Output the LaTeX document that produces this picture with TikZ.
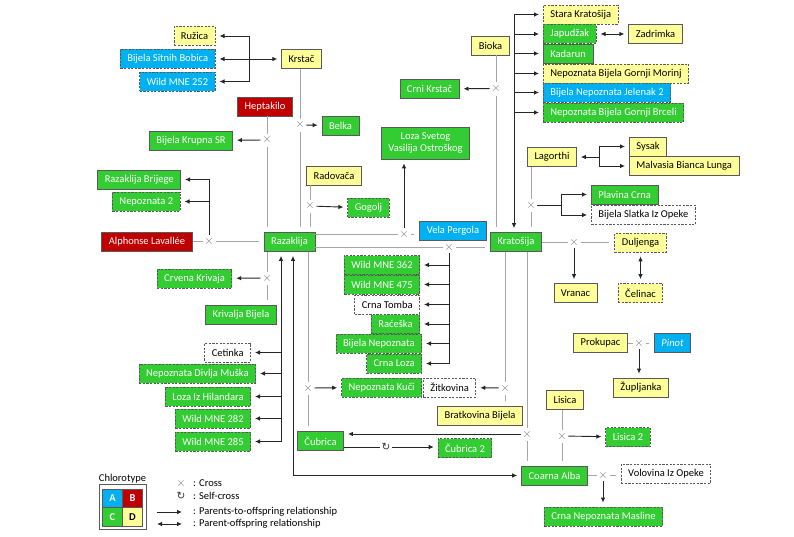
\documentclass[tikz,border=0pt]{standalone}
\usepackage{fontspec}
\setmainfont{Carlito}
\newfontfamily\symfont{DejaVu Sans}
\usetikzlibrary{arrows.meta}

\definecolor{cgreen}{RGB}{51,204,51}
\definecolor{cblue}{RGB}{0,176,240}
\definecolor{cred}{RGB}{192,0,0}
\definecolor{cyellow}{RGB}{255,255,153}
\definecolor{cline}{RGB}{89,89,89}

\tikzset{
    box/.style={draw=cline, line width=0.8pt, minimum height=19pt, inner xsep=7pt, inner ysep=0pt, font=\fontsize{10.5}{12.6}\selectfont},
    grn/.style={box, fill=cgreen, text=white},
    blu/.style={box, fill=cblue, text=white},
    rd/.style={box, fill=cred, text=white},
    ylw/.style={box, fill=cyellow},
    wht/.style={box, fill=white},
    dsh/.style={dash pattern=on 2.2pt off 1.4pt},
    xx/.style={circle, fill=white, inner sep=0pt, minimum size=10pt, text=black!55, font=\fontsize{12.5}{12.5}\selectfont},
    selfx/.style={circle, fill=white, inner sep=0pt, minimum size=10pt, text=black!80, font=\symfont\fontsize{10.5}{10.5}\selectfont},
    pline/.style={draw=gray!70, line width=0.8pt, shorten <=1pt, shorten >=5pt},
    arr/.style={draw=black!85, line width=0.9pt, -{Latex[length=5pt,width=4.6pt]}, shorten >=4pt},
    biarr/.style={arr, {Latex[length=5pt,width=4.6pt]}-{Latex[length=5pt,width=4.6pt]}, shorten <=4pt},
    cell/.style={draw=cline, line width=0.6pt, minimum width=20pt, minimum height=18.5pt, inner sep=0pt, font=\fontsize{10.5}{12}\selectfont\bfseries},
    legtxt/.style={anchor=west, inner sep=0pt, font=\fontsize{10.5}{12.6}\selectfont},
}

\begin{document}
\begin{tikzpicture}[x=1pt, y=-1pt]
    \useasboundingbox (0,0) rectangle (794,537);

    % top left
    \node[ylw, dsh, anchor=east] (ruzica) at (215.5,36) {Ružica};
    \node[blu, dsh, anchor=east] (bsbobica) at (215.5,59) {Bijela Sitnih Bobica};
    \node[blu, dsh, anchor=east] (wmne252) at (215.5,81.5) {Wild MNE 252};
    \node[ylw] (krstac) at (301.5,59) {Krstač};
    \node[rd] (heptakilo) at (265,106.5) {Heptakilo};
    \node[grn] (bkrupna) at (191,140.5) {Bijela Krupna SR};
    \node[grn] (belka) at (340.5,125.5) {Belka};
    \node[ylw] (radovaca) at (334,175.5) {Radovača};
    \node[grn, anchor=east] (razbrijege) at (181,179.5) {Razaklija Brijege};
    \node[grn, dsh, anchor=east] (nepoznata2) at (180.5,201.5) {Nepoznata 2};
    \node[rd] (alphonse) at (147,241.5) {Alphonse Lavallée};
    \node[grn] (razaklija) at (289.5,242) {Razaklija};
    \node[grn, dsh] (gogolj) at (368.5,208) {Gogolj};
    \node[grn, dsh] (crvena) at (194.5,278.5) {Crvena Krivaja};
    \node[grn] (krivalja) at (241,314.5) {Krivalja Bijela};

    % middle
    \node[ylw] (bioka) at (490.5,45.5) {Bioka};
    \node[grn] (crnikrstac) at (429.5,89) {Crni Krstač};
    \node[grn, align=center, minimum height=32pt] (loza) at (425.5,143) {Loza Svetog\\Vasilija Ostroškog};
    \node[blu] (velapergola) at (453,230.5) {Vela Pergola};
    \node[grn] (kratosija) at (516,242) {Kratošija};
    \node[grn, dsh, anchor=east] (wmne362) at (420,265) {Wild MNE 362};
    \node[grn, dsh, anchor=east] (wmne475) at (420,284.5) {Wild MNE 475};
    \node[wht, dsh, anchor=east] (crnatomba) at (420,304.5) {Crna Tomba};
    \node[grn, dsh, anchor=east] (raceska) at (420,324) {Raćeška};
    \node[grn, dsh, anchor=east] (bnepoznata) at (422,343.5) {Bijela Nepoznata};
    \node[grn, dsh, anchor=east] (crnaloza) at (422,363.5) {Crna Loza};

    % right
    \node[ylw, dsh, anchor=west] (stara) at (543,14.5) {Stara Kratošija};
    \node[grn, dsh, anchor=west] (japudzak) at (543,34) {Japudžak};
    \node[ylw] (zadrimka) at (655.5,34) {Zadrimka};
    \node[grn, anchor=west] (kadarun) at (543,53.5) {Kadarun};
    \node[ylw, dsh, anchor=west] (nbgmorinj) at (543,73.5) {Nepoznata Bijela Gornji Morinj};
    \node[blu, dsh, anchor=west] (bnjelenak) at (543,92.5) {Bijela Nepoznata Jelenak 2};
    \node[grn, dsh, anchor=west] (nbgbrceli) at (543,112.5) {Nepoznata Bijela Gornji Brceli};
    \node[ylw] (lagorthi) at (552,157) {Lagorthi};
    \node[ylw, anchor=west] (sysak) at (629,146.5) {Sysak};
    \node[ylw, anchor=west] (malvasia) at (629,166) {Malvasia Bianca Lunga};
    \node[grn, anchor=west] (plavina) at (591,194.5) {Plavina Crna};
    \node[wht, dsh, anchor=west] (bslatka) at (591,215) {Bijela Slatka Iz Opeke};
    \node[ylw, dsh] (duljenga) at (640.5,242.5) {Duljenga};
    \node[ylw] (vranac) at (575.5,293) {Vranac};
    \node[ylw, dsh] (celinac) at (640.5,293) {Čelinac};
    \node[ylw] (prokupac) at (600.5,343) {Prokupac};
    \node[blu] (pinot) at (672.5,343) {\itshape Pinot};
    \node[ylw] (zupljanka) at (641,387.5) {Župljanka};

    % bottom
    \node[wht, dsh, anchor=east] (cetinka) at (251,352.5) {Cetinka};
    \node[grn, dsh, anchor=east] (ndmuska) at (256,373.5) {Nepoznata Divlja Muška};
    \node[grn, dsh, anchor=east] (lozahil) at (251,396.5) {Loza Iz Hilandara};
    \node[grn, dsh, anchor=east] (wmne282) at (251,418.5) {Wild MNE 282};
    \node[grn, dsh, anchor=east] (wmne285) at (251,441.5) {Wild MNE 285};
    \node[grn, dsh, anchor=east] (nkuci) at (422,387.5) {Nepoznata Kuči};
    \node[wht, dsh, anchor=west] (zitkovina) at (423,387.5) {Žitkovina};
    \node[ylw] (bratkovina) at (480,416) {Bratkovina Bijela};
    \node[ylw] (lisica) at (565,400) {Lisica};
    \node[grn, dsh] (lisica2) at (628,437) {Lisica 2};
    \node[grn] (cubrica) at (320.5,441) {Čubrica};
    \node[grn, dsh] (cubrica2) at (465,448) {Čubrica 2};
    \node[grn] (coarna) at (554.5,475.5) {Coarna Alba};
    \node[wht, dsh] (volovina) at (666,473.5) {Volovina Iz Opeke};
    \node[grn, dsh] (cnmasline) at (603.5,516.5) {Crna Nepoznata Masline};

    % crosses
    \node[xx] (xkr) at (300,125) {$\times$};
    \node[xx] (xhr) at (267,140) {$\times$};
    \node[xx] (xrg) at (310,206) {$\times$};
    \node[xx] (xal) at (209,241) {$\times$};
    \node[xx] (xrc) at (267,278) {$\times$};
    \node[xx] (xrv) at (404,234) {$\times$};
    \node[xx] (xrk) at (449,247) {$\times$};
    \node[xx] (xbk) at (496,88.5) {$\times$};
    \node[xx] (xlk) at (531,205) {$\times$};
    \node[xx] (xkd) at (574,242) {$\times$};
    \node[xx] (xpp) at (639,343) {$\times$};
    \node[xx] (xkb) at (505,388) {$\times$};
    \node[xx] (xkc) at (527,434) {$\times$};
    \node[xx] (xlc) at (562,436) {$\times$};
    \node[xx] (xcv) at (603,475) {$\times$};
    \node[xx] (xrcu) at (308,388) {$\times$};
    \node[selfx] (self) at (386,447) {↻};

    \coordinate (kbr) at (249,59);
    \coordinate (krb) at (514,14.5);
    \coordinate (lgf) at (599,157);
    \coordinate (plf) at (561,205);
    \coordinate (rzb) at (281,441.5);
    \coordinate (rzc) at (293,476);

    % Krstac
    \draw[biarr] (krstac) -- (bsbobica);
    \draw[arr] (kbr) |- (ruzica);
    \draw[arr] (kbr) |- (wmne252);
    \draw[pline] (krstac.south -| xkr) -- (xkr) -- (razaklija.north -| xkr);
    \draw[arr] (xkr) -- (belka);

    % Razaklija
    \draw[pline] (heptakilo.south -| xhr) -- (xhr) -- (razaklija.north -| xhr);
    \draw[arr] (xhr) -- (bkrupna);
    \draw[pline] (radovaca.south -| xrg) -- (xrg) -- (razaklija.north -| xrg);
    \draw[arr] (xrg) -- (gogolj);
    \draw[pline] (alphonse.east |- xal) -- (xal) -- (razaklija.west |- xal);
    \draw[arr] (xal) |- (razbrijege);
    \draw[arr] (xal) |- (nepoznata2);
    \draw[pline] (razaklija.south -| xrc) -- (xrc) -- (krivalja.north -| xrc);
    \draw[arr] (xrc) -- (crvena);
    \draw[pline] (razaklija.east |- xrv) -- (xrv) -- (velapergola.west |- xrv);
    \draw[arr] (xrv) -- (loza.south -| xrv);
    \draw[pline] (razaklija.east |- xrk) -- (xrk) -- (kratosija.west |- xrk);
    \draw[arr] (xrk) |- (wmne362);
    \draw[arr] (xrk) |- (wmne475);
    \draw[arr] (xrk) |- (crnatomba);
    \draw[arr] (xrk) |- (raceska);
    \draw[arr] (xrk) |- (bnepoznata);
    \draw[arr] (xrk) |- (crnaloza);
    \draw[pline] (razaklija.south -| xrcu) -- (xrcu) -- (cubrica.north -| xrcu);
    \draw[arr] (xrcu) -- (nkuci);
    \draw[arr] (rzb) -- (razaklija.south -| rzb);
    \draw[arr] (rzb |- cetinka) -- (cetinka);
    \draw[arr] (rzb |- ndmuska) -- (ndmuska);
    \draw[arr] (rzb |- lozahil) -- (lozahil);
    \draw[arr] (rzb |- wmne282) -- (wmne282);
    \draw[arr] (rzb) -- (wmne285);
    \draw[biarr] (razaklija.south -| rzc) |- (coarna);

    % Kratosija
    \draw[pline] (bioka.south -| xbk) -- (xbk) -- (kratosija.north -| xbk);
    \draw[arr] (xbk) -- (crnikrstac);
    \draw[arr] (krb) -- (kratosija.north -| krb);
    \draw[arr] (krb) -- (stara);
    \draw[arr] (krb |- japudzak) -- (japudzak);
    \draw[arr] (krb |- kadarun) -- (kadarun);
    \draw[arr] (krb |- nbgmorinj) -- (nbgmorinj);
    \draw[arr] (krb |- bnjelenak) -- (bnjelenak);
    \draw[arr] (krb |- nbgbrceli) -- (nbgbrceli);
    \draw[biarr] (japudzak) -- (zadrimka);
    \draw[arr] (lgf) -- (lagorthi);
    \draw[arr] (lgf) |- (sysak);
    \draw[arr] (lgf) |- (malvasia);
    \draw[pline] (lagorthi.south -| xlk) -- (xlk) -- (kratosija.north -| xlk);
    \draw[arr] (xlk) -- (plf) |- (plavina);
    \draw[arr] (plf) |- (bslatka);
    \draw[pline] (kratosija.east |- xkd) -- (xkd) -- (duljenga.west |- xkd);
    \draw[arr] (xkd) -- (vranac.north -| xkd);
    \draw[biarr] (duljenga) -- (celinac);
    \draw[pline] (prokupac) -- (xpp) -- (pinot);
    \draw[arr] (xpp) -- (zupljanka.north -| xpp);
    \draw[pline] (kratosija.south -| xkb) -- (xkb) -- (bratkovina.north -| xkb);
    \draw[arr] (xkb) -- (zitkovina);
    \draw[pline] (kratosija.south -| xkc) -- (xkc) -- (coarna.north -| xkc);
    \draw[arr] (xkc) -- (cubrica.east |- xkc);
    \draw[pline] (lisica.south -| xlc) -- (xlc) -- (coarna.north -| xlc);
    \draw[arr] (xlc) -- (lisica2);
    \draw[pline] (coarna.east |- xcv) -- (xcv) -- (volovina.west |- xcv);
    \draw[arr] (xcv) -- (cnmasline.north -| xcv);
    \draw[arr] (cubrica.east |- self) -- (self) -- (cubrica2.west |- self);

    % legend
    \node[font=\fontsize{10.5}{12.6}\selectfont, inner sep=0pt] (chloro) at (122.5,478.5) {Chlorotype};
    \node[draw=cline, line width=0.8pt, minimum width=47pt, minimum height=45pt, inner sep=0pt] (legend) at (122.5,506.5) {};
    \node[cell, fill=cblue, text=white] (ca) at (112.5,498.5) {A};
    \node[cell, fill=cred, text=white] (cb) at (132.5,498.5) {B};
    \node[cell, fill=cgreen, text=white] (cc) at (112.5,517) {C};
    \node[cell, fill=cyellow] (cd) at (132.5,517) {D};
    \node[xx] (lx) at (181,483) {$\times$};
    \node[legtxt] (lxt) at (193,483) {: Cross};
    \node[selfx] (ls) at (181,496) {↻};
    \node[legtxt] (lst) at (193,496) {: Self-cross};
    \coordinate (la1) at (157,512);
    \coordinate (la2) at (186,512);
    \draw[arr] (la1) -- (la2);
    \node[legtxt] (lat) at (193,512) {: Parents-to-offspring relationship};
    \coordinate (lb1) at (153,524);
    \coordinate (lb2) at (186,524);
    \draw[biarr] (lb1) -- (lb2);
    \node[legtxt] (lbt) at (193,524) {: Parent-offspring relationship};
\end{tikzpicture}
\end{document}
